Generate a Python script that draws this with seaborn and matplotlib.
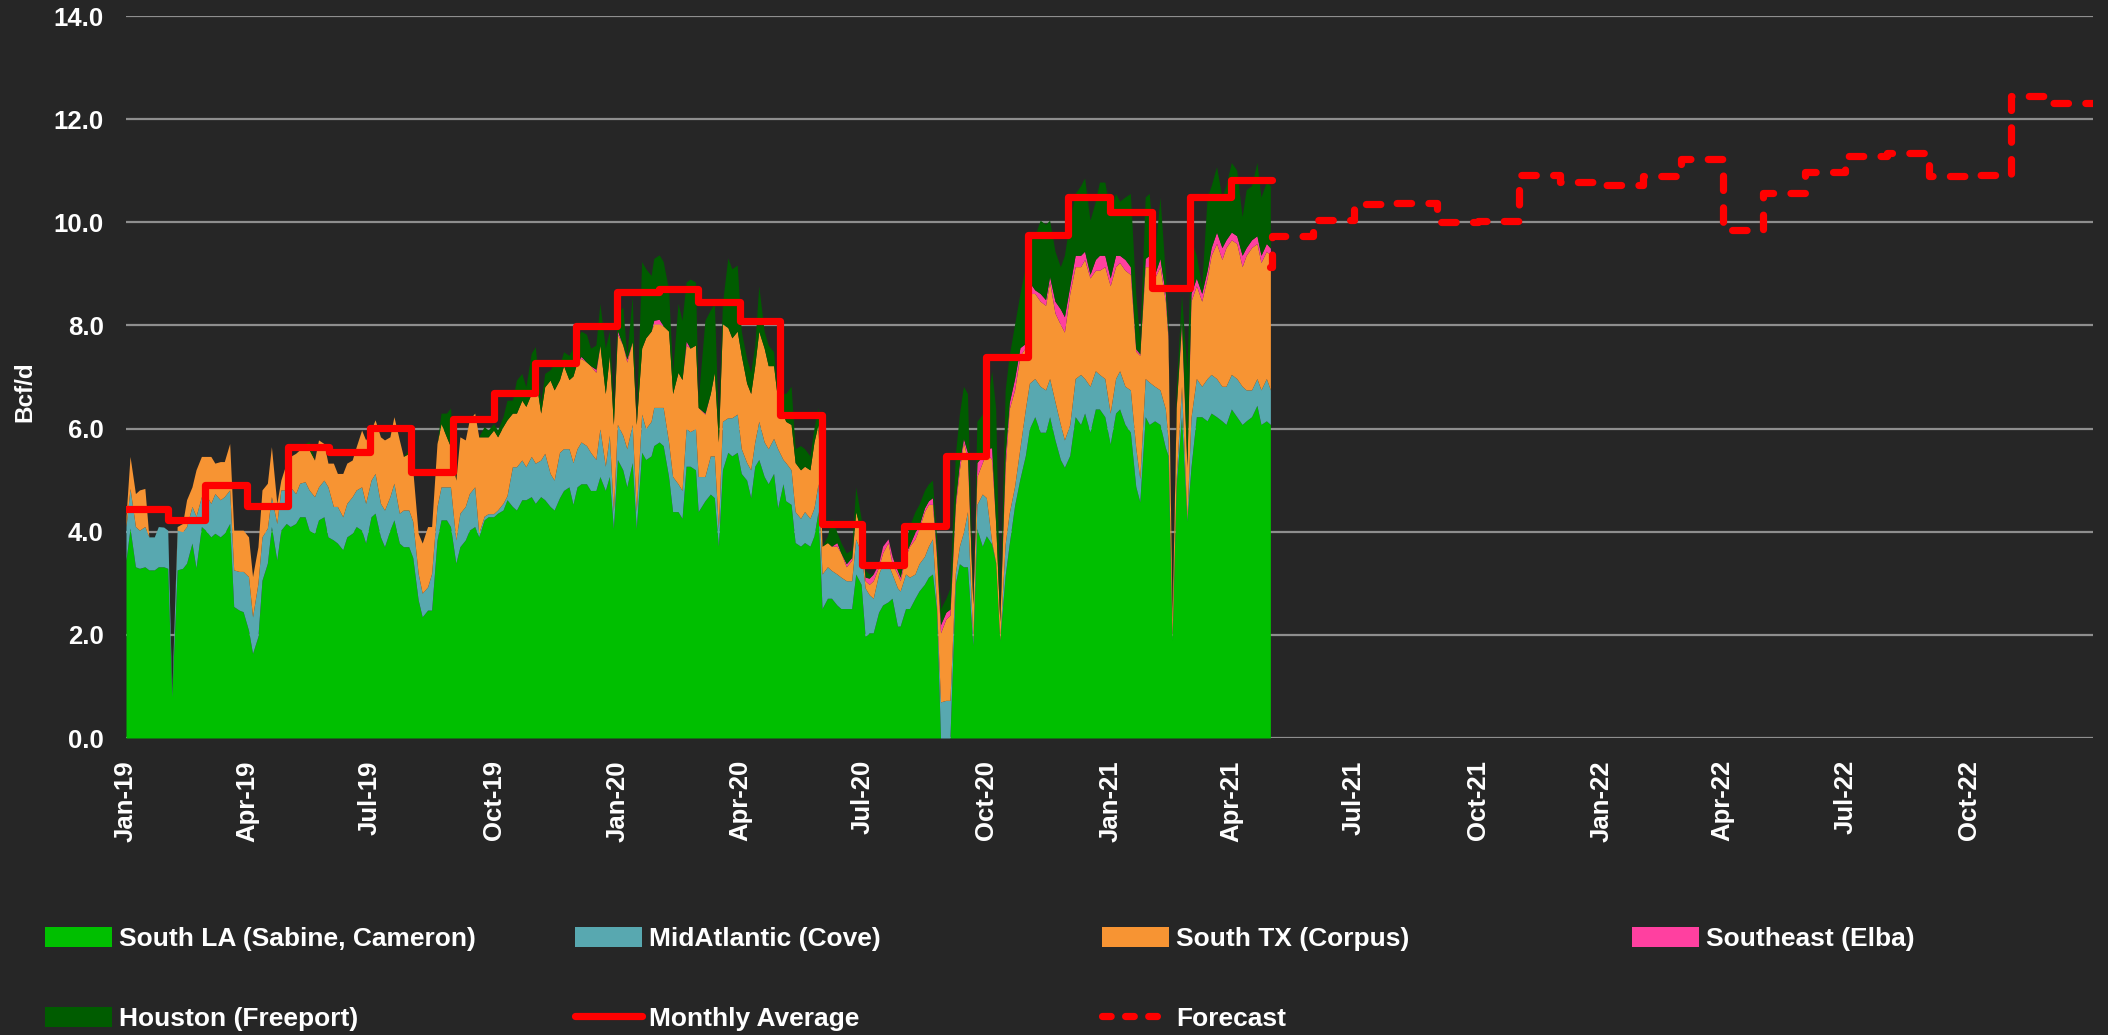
import numpy as np
import pandas as pd
import matplotlib
matplotlib.use("Agg")
import matplotlib.pyplot as plt
import seaborn as sns
from matplotlib.patches import Patch
from matplotlib.lines import Line2D

# ---------------- data ----------------
# day offsets from 2019-01-01 of the sampled daily values
day_offset = [
    0, 3, 7, 10, 14, 17, 21, 24, 28, 31,
    34, 38, 42, 45, 49, 52, 56, 59, 63, 66,
    70, 73, 77, 80, 84, 87, 91, 94, 98, 101,
    105, 108, 112, 115, 119, 122, 126, 129, 133, 136,
    140, 143, 147, 150, 154, 157, 161, 164, 168, 171,
    175, 178, 182, 185, 189, 192, 196, 199, 203, 206,
    210, 213, 217, 220, 224, 227, 231, 234, 238, 241,
    245, 248, 252, 255, 259, 262, 266, 269, 273, 276,
    280, 283, 287, 290, 294, 297, 301, 304, 308, 311,
    315, 318, 322, 325, 329, 332, 335, 338, 342, 345,
    349, 352, 356, 359, 362, 365, 369, 372, 376, 379,
    383, 386, 390, 392, 396, 399, 403, 406, 410, 413,
    416, 419, 423, 425, 430, 434, 437, 440, 443, 447,
    450, 454, 457, 461, 464, 467, 470, 474, 477, 481,
    484, 488, 490, 494, 497, 501, 504, 508, 511, 514,
    517, 521, 524, 528, 531, 535, 539, 542, 546, 549,
    552, 555, 559, 562, 566, 569, 573, 575, 579, 582,
    586, 589, 593, 596, 599, 602, 605, 609, 612, 616,
    619, 622, 625, 629, 632, 636, 639, 643, 646, 649,
    653, 656, 660, 664, 668, 671, 675, 679, 683, 686,
    690, 694, 697, 701, 705, 709, 712, 716, 720, 723,
    727, 731, 735, 738, 742, 746, 750, 753, 757, 760,
    764, 768, 772, 774, 777, 780, 784, 788, 791, 795,
    799, 803, 806, 810, 814, 817, 821, 825, 829, 832,
    836, 840, 843, 847, 850,
]

south_la = [
    3.45, 4.07, 3.32, 3.29, 3.32, 3.26, 3.26, 3.32, 3.32, 3.29,
    0.80, 3.26, 3.29, 3.39, 3.78, 3.30, 4.10, 4.03, 3.90, 3.97,
    3.90, 3.97, 4.16, 2.55, 2.48, 2.45, 2.09, 1.64, 1.97, 3.06,
    3.39, 4.10, 3.45, 4.03, 4.16, 4.10, 4.16, 4.29, 4.29, 4.03,
    3.97, 4.23, 4.29, 3.90, 3.84, 3.78, 3.65, 3.90, 3.97, 4.10,
    4.03, 3.78, 4.29, 4.36, 3.90, 3.71, 4.03, 4.23, 3.78, 3.71,
    3.71, 3.50, 2.68, 2.35, 2.48, 2.48, 3.84, 4.23, 4.23, 4.10,
    3.39, 3.71, 3.84, 4.03, 4.10, 3.90, 4.23, 4.29, 4.29, 4.36,
    4.42, 4.62, 4.49, 4.42, 4.62, 4.62, 4.68, 4.55, 4.68, 4.62,
    4.49, 4.42, 4.66, 4.80, 4.87, 4.53, 4.87, 4.93, 4.93, 4.80,
    4.80, 5.07, 4.80, 5.07, 4.06, 5.40, 5.20, 4.87, 5.34, 4.06,
    5.54, 5.40, 5.47, 5.67, 5.74, 5.67, 5.07, 4.39, 4.39, 4.26,
    5.27, 5.27, 5.20, 4.39, 4.60, 4.73, 4.66, 3.72, 5.20, 5.54,
    5.47, 5.54, 5.13, 5.00, 4.66, 5.27, 5.40, 5.07, 4.93, 5.13,
    4.46, 4.93, 4.60, 4.53, 3.79, 3.72, 3.79, 3.72, 3.92, 4.39,
    2.51, 2.71, 2.71, 2.58, 2.51, 2.51, 2.51, 3.18, 2.98, 1.97,
    2.04, 2.04, 2.44, 2.58, 2.64, 2.71, 2.17, 2.17, 2.51, 2.51,
    2.71, 2.85, 2.98, 3.12, 3.18, 2.50, 0.00, 0.00, 0.00, 3.00,
    3.38, 3.32, 3.32, 1.80, 4.06, 3.72, 3.92, 3.76, 3.39, 1.89,
    3.16, 3.76, 4.51, 5.03, 5.48, 6.00, 6.23, 5.93, 5.93, 6.23,
    5.78, 5.40, 5.25, 5.48, 6.23, 6.08, 6.30, 5.93, 6.38, 6.38,
    6.23, 5.70, 6.30, 6.38, 6.08, 5.93, 4.88, 4.58, 6.23, 6.08,
    6.15, 6.08, 5.63, 5.48, 1.90, 4.88, 6.23, 4.21, 5.25, 6.23,
    6.23, 6.15, 6.30, 6.23, 6.15, 6.08, 6.38, 6.23, 6.08, 6.15,
    6.23, 6.45, 6.08, 6.15, 6.08,
]

midatlantic = [
    0.65, 0.77, 0.78, 0.74, 0.78, 0.64, 0.64, 0.78, 0.77, 0.74,
    0.05, 0.77, 0.71, 0.71, 0.71, 1.00, 0.58, 0.71, 0.65, 0.77,
    0.72, 0.71, 0.65, 0.71, 0.75, 0.78, 1.04, 0.71, 1.03, 0.84,
    0.68, 0.58, 0.71, 0.78, 0.65, 0.77, 0.58, 0.65, 0.68, 0.78,
    0.71, 0.64, 0.71, 0.97, 0.65, 0.71, 0.64, 0.65, 0.71, 0.71,
    0.84, 0.77, 0.71, 0.77, 0.65, 0.71, 0.65, 0.71, 0.58, 0.71,
    0.71, 0.70, 0.51, 0.46, 0.45, 0.71, 0.65, 0.64, 0.64, 0.77,
    0.45, 0.65, 0.65, 0.71, 0.77, 0.07, 0.07, 0.06, 0.06, 0.06,
    0.13, 0.08, 0.77, 0.84, 0.77, 0.64, 0.78, 0.78, 0.71, 0.90,
    0.64, 0.58, 0.88, 0.81, 0.74, 0.81, 0.74, 0.81, 0.74, 0.74,
    0.60, 0.93, 0.47, 0.80, 0.33, 0.68, 0.67, 0.74, 0.74, 0.33,
    0.74, 0.60, 0.67, 0.74, 0.67, 0.74, 0.67, 0.68, 0.54, 0.54,
    0.73, 0.67, 0.80, 0.68, 0.47, 0.74, 0.81, 0.34, 0.94, 0.67,
    0.74, 0.74, 0.48, 0.34, 0.54, 0.47, 0.74, 0.67, 0.68, 0.68,
    1.15, 0.47, 0.74, 0.67, 0.60, 0.54, 0.60, 0.54, 0.54, 0.54,
    0.67, 0.61, 0.54, 0.60, 0.61, 0.54, 0.54, 0.68, 0.61, 0.94,
    0.74, 0.67, 0.74, 0.80, 0.74, 0.47, 0.74, 0.68, 0.67, 0.61,
    0.47, 0.53, 0.54, 0.60, 0.68, 0.10, 0.70, 0.73, 0.73, 0.20,
    0.34, 0.67, 1.07, 0.10, 0.47, 1.01, 0.74, 0.04, 0.01, 0.01,
    0.60, 0.60, 0.37, 0.60, 0.90, 0.88, 0.74, 0.89, 0.82, 0.74,
    0.74, 0.68, 0.53, 0.60, 0.74, 0.97, 0.67, 0.89, 0.74, 0.67,
    0.74, 0.60, 0.67, 0.74, 0.74, 0.82, 0.75, 0.45, 0.74, 0.82,
    0.67, 0.67, 0.75, 0.30, 0.05, 0.15, 0.59, 0.04, 0.96, 0.74,
    0.59, 0.82, 0.75, 0.74, 0.67, 0.74, 0.67, 0.74, 0.74, 0.60,
    0.52, 0.52, 0.67, 0.82, 0.67,
]

south_tx = [
    0.20, 0.62, 0.64, 0.78, 0.74, 0.00, 0.00, 0.00, 0.00, 0.00,
    0.00, 0.07, 0.16, 0.52, 0.38, 0.90, 0.78, 0.72, 0.91, 0.59,
    0.74, 0.68, 0.90, 0.77, 0.80, 0.80, 0.77, 0.78, 0.71, 0.91,
    0.87, 0.97, 0.39, 0.19, 0.52, 0.59, 0.78, 0.65, 0.74, 0.78,
    0.71, 0.91, 0.71, 0.46, 0.84, 0.64, 0.84, 0.78, 0.71, 0.84,
    1.10, 1.23, 0.97, 1.04, 1.29, 1.36, 1.16, 1.29, 1.42, 1.04,
    1.10, 1.00, 0.78, 0.97, 1.17, 0.91, 1.22, 1.23, 0.97, 0.78,
    1.16, 1.48, 1.29, 1.43, 1.43, 1.87, 1.54, 1.49, 1.62, 1.42,
    1.49, 1.47, 1.04, 1.04, 1.16, 1.17, 1.22, 1.68, 0.91, 1.29,
    1.81, 1.75, 1.41, 1.61, 1.34, 1.68, 1.68, 1.62, 1.62, 1.68,
    1.69, 1.62, 1.41, 1.55, 1.69, 1.75, 1.75, 1.68, 1.61, 1.69,
    1.28, 1.76, 1.75, 1.62, 1.62, 1.58, 2.15, 1.61, 2.16, 2.15,
    1.62, 1.62, 1.62, 1.34, 1.21, 1.21, 1.62, 1.68, 1.89, 1.75,
    1.55, 1.61, 1.81, 1.54, 1.48, 1.48, 1.75, 1.82, 1.61, 1.41,
    0.94, 0.88, 0.80, 0.88, 0.95, 0.94, 0.88, 0.94, 1.28, 1.15,
    0.54, 0.47, 0.47, 0.54, 0.47, 0.27, 0.40, 0.53, 0.40, 0.14,
    0.20, 0.34, 0.14, 0.21, 0.41, 0.20, 0.27, 0.20, 0.34, 0.60,
    0.68, 0.68, 0.87, 0.81, 0.67, 0.90, 1.34, 1.58, 1.65, 1.30,
    1.48, 1.75, 1.01, 0.70, 0.54, 0.61, 0.88, 1.60, 0.73, 0.36,
    1.49, 2.02, 1.87, 1.79, 1.19, 1.74, 1.65, 1.65, 1.64, 1.87,
    1.72, 1.94, 2.09, 2.54, 2.17, 2.09, 2.31, 2.10, 1.95, 2.02,
    2.17, 2.47, 2.17, 2.10, 2.25, 2.24, 1.87, 2.39, 2.17, 2.24,
    2.10, 2.39, 2.09, 1.94, 0.35, 1.35, 1.18, 1.00, 2.26, 1.80,
    1.65, 1.95, 2.31, 2.62, 2.46, 2.69, 2.61, 2.62, 2.32, 2.61,
    2.76, 2.62, 2.47, 2.47, 2.61,
]

southeast = [
    0, 0, 0, 0, 0, 0, 0, 0, 0, 0,
    0, 0, 0, 0, 0, 0, 0, 0, 0, 0,
    0, 0, 0, 0, 0, 0, 0, 0, 0, 0,
    0, 0, 0, 0, 0, 0, 0, 0, 0, 0,
    0, 0, 0, 0, 0, 0, 0, 0, 0, 0,
    0, 0, 0, 0, 0, 0, 0, 0, 0, 0,
    0, 0, 0, 0, 0, 0, 0, 0, 0, 0,
    0, 0, 0, 0, 0, 0, 0, 0, 0, 0,
    0, 0, 0, 0, 0, 0, 0, 0, 0, 0,
    0, 0, 0, 0, 0, 0, 0, 0.04, 0, 0,
    0.06, 0, 0, 0, 0, 0.07, 0, 0.06, 0, 0,
    0, 0, 0, 0.07, 0.09, 0, 0, 0, 0, 0,
    0.08, 0, 0, 0, 0.02, 0, 0, 0, 0, 0,
    0, 0, 0, 0, 0, 0, 0, 0, 0, 0,
    0, 0, 0, 0, 0, 0, 0, 0, 0, 0,
    0, 0, 0, 0.07, 0, 0.06, 0.05, 0, 0, 0.07,
    0.12, 0.13, 0.06, 0.13, 0.07, 0.14, 0.07, 0.07, 0.07, 0.03,
    0.13, 0.06, 0.07, 0.07, 0.13, 0.10, 0.16, 0.13, 0.12, 0.10,
    0.14, 0.07, 0.14, 0.00, 0.27, 0.13, 0.07, 0.23, 0.00, 0.00,
    0.23, 0.12, 0.22, 0.15, 0.08, 0.22, 0.07, 0.15, 0.11, 0.11,
    0.23, 0.30, 0.30, 0.15, 0.22, 0.22, 0.16, 0.07, 0.21, 0.29,
    0.22, 0.15, 0.22, 0.14, 0.21, 0.15, 0.05, 0.03, 0.16, 0.22,
    0.07, 0.16, 0.15, 0.08, 0.00, 0.02, 0.10, 0.05, 0.15, 0.15,
    0.15, 0.15, 0.15, 0.22, 0.23, 0.15, 0.15, 0.15, 0.22, 0.15,
    0.15, 0.15, 0.14, 0.15, 0.14,
]

houston = [
    0, 0, 0, 0, 0, 0, 0, 0, 0, 0,
    0, 0, 0, 0, 0, 0, 0, 0, 0, 0,
    0, 0, 0, 0, 0, 0, 0, 0, 0, 0,
    0, 0, 0, 0, 0, 0, 0, 0, 0, 0.16,
    0, 0, 0, 0, 0, 0, 0, 0, 0, 0,
    0, 0, 0, 0, 0, 0, 0, 0, 0, 0,
    0.08, 0, 0, 0, 0, 0, 0, 0.20, 0.46, 0.75,
    0, 0, 0, 0, 0, 0, 0.20, 0.13, 0.13, 0.13,
    0.19, 0.38, 0.25, 0.64, 0.52, 0.38, 0.78, 0.58, 0.19, 0.26,
    0.20, 0.52, 0.27, 0.27, 0.47, 0.54, 0.47, 0.49, 0.54, 0.34,
    0.47, 0.81, 0.88, 0.47, 0.33, 0.33, 0.74, 0.07, 0.88, 0.06,
    1.68, 1.34, 1.08, 1.20, 1.25, 1.25, 0.81, 0.41, 1.34, 1.15,
    1.14, 1.34, 1.22, 0.14, 1.80, 1.62, 1.34, 0.34, 0.40, 1.35,
    1.34, 1.28, 0.47, 0.48, 0.41, 0.40, 0.88, 0.33, 0.40, 0.27,
    0.13, 0.40, 0.54, 0.74, 0.27, 0.47, 0.34, 0.27, 0.27, 0.33,
    0.00, 0.13, 0.54, 0.20, 0.20, 0.21, 0.15, 0.48, 0.27, 0.13,
    0.08, 0.00, 0.00, 0.00, 0.00, 0.00, 0.07, 0.13, 0.20, 0.37,
    0.40, 0.41, 0.34, 0.33, 0.34, 0.30, 0.31, 0.27, 0.41, 0.90,
    0.94, 1.01, 1.14, 0.10, 0.80, 0.81, 0.80, 1.49, 2.25, 0.04,
    1.27, 0.92, 1.05, 1.05, 1.49, 0.97, 1.05, 1.42, 1.46, 1.09,
    0.97, 0.82, 1.19, 1.27, 1.20, 1.35, 1.42, 1.05, 1.13, 1.42,
    1.42, 1.27, 1.20, 1.05, 1.21, 1.42, 1.05, 0.27, 1.19, 1.20,
    0.37, 1.19, 0.37, 0.22, 0.00, 0.35, 0.50, 1.82, 1.04, 0.44,
    0.15, 1.42, 1.20, 1.27, 0.98, 1.05, 1.35, 1.27, 0.75, 1.12,
    1.05, 1.42, 1.13, 1.19, 1.21,
]

# monthly averages Jan-19 .. Apr-21
monthly_avg = [4.45, 4.23, 4.90, 4.49, 5.64, 5.55, 6.01, 5.15, 6.18, 6.69,
               7.27, 7.98, 8.64, 8.71, 8.45, 8.09, 6.26, 4.15, 3.35, 4.11,
               5.47, 7.39, 9.75, 10.49, 10.19, 8.72, 10.49, 10.82]

# forecast: last daily point then May-21 .. Dec-22
forecast_dates = ["2021-04-30"] + [d.strftime("%Y-%m-%d") for d in
                                   pd.date_range("2021-05-01", periods=20, freq="MS")]
forecast_vals = [9.14, 9.73, 10.05, 10.35, 10.38, 10.00, 10.02, 10.91, 10.78, 10.73,
                 10.90, 11.23, 9.86, 10.57, 10.98, 11.28, 11.34, 10.90, 10.92, 12.45,
                 12.32]

series_labels = ["South LA (Sabine, Cameron)", "MidAtlantic (Cove)", "South TX (Corpus)",
                 "Southeast (Elba)", "Houston (Freeport)"]
series_colors = ["#00BF00", "#58A8B0", "#F79433", "#FF40A0", "#005C00"]

# ---------------- style ----------------
BG = "#262626"
sns.set_theme(style="dark", rc={
    "axes.facecolor": BG, "figure.facecolor": BG, "savefig.facecolor": BG,
    "text.color": "white", "axes.labelcolor": "white",
    "xtick.color": "white", "ytick.color": "white",
})
plt.rcParams["font.family"] = ["Liberation Sans", "DejaVu Sans"]
plt.rcParams["font.weight"] = "bold"

FS = 18.5
LFS = 19
W, H = 2108, 1035
fig = plt.figure(figsize=(W / 100, H / 100), dpi=100)
ax = fig.add_axes([126 / W, 1 - 738 / H, (2093 - 126) / W, (738 - 16) / H])
ax.set_facecolor(BG)

start = pd.Timestamp("2019-01-01")
dates = start + pd.to_timedelta(day_offset, unit="D")

ax.stackplot(dates, south_la, midatlantic, south_tx, southeast, houston,
             colors=series_colors, linewidth=0, zorder=2)

# monthly average (step line)
m_dates = list(pd.date_range("2019-01-01", periods=len(monthly_avg), freq="MS"))
m_dates.append(pd.Timestamp("2021-05-01"))
m_vals = monthly_avg + [monthly_avg[-1]]
sns.lineplot(x=m_dates, y=m_vals, drawstyle="steps-post", color="#FF0000",
             linewidth=5.2, ax=ax, zorder=4, legend=False)

# forecast (dashed step line)
f_dates = [pd.Timestamp(d) for d in forecast_dates] + [pd.Timestamp("2023-01-01")]
f_vals = forecast_vals + [forecast_vals[-1]]
sns.lineplot(x=f_dates, y=f_vals, drawstyle="steps-post", color="#FF0000",
             linewidth=5.2, linestyle=(0, (2.0, 2.4)), dash_capstyle="round",
             ax=ax, zorder=4, legend=False)

# axes
ax.set_ylim(0, 14)
ax.set_yticks(np.arange(0, 15, 2))
ax.set_yticklabels([f"{v:.1f}" for v in np.arange(0, 15, 2)], fontsize=FS, fontweight="bold")
ax.set_xlim(start, pd.Timestamp("2023-01-01"))
qt = pd.date_range("2019-01-01", "2022-10-01", freq="QS")
ax.set_xticks(qt)
ax.set_xticklabels([d.strftime("%b-%y") for d in qt], rotation=90, fontsize=FS,
                   fontweight="bold")
ax.tick_params(axis="x", length=0, pad=16)
ax.tick_params(axis="y", length=0, pad=16)
ax.grid(axis="y", color="#8E8E8E", linewidth=1.6, zorder=0)
ax.grid(axis="x", visible=False)
ax.set_axisbelow(True)
for s in ax.spines.values():
    s.set_visible(False)
ax.set_xlabel("")
ax.set_ylabel("Bcf/d", fontsize=17.5, fontweight="bold", color="white")
ax.yaxis.set_label_coords(-0.0458, 0.48)

# legend: fixed grid of entries
handles = [Patch(facecolor=c, edgecolor="none") for c in series_colors]
handles.append(Line2D([], [], color="#FF0000", linewidth=5.2))
handles.append(Line2D([], [], color="#FF0000", linewidth=5.2, linestyle=(0, (1.2, 2.0)),
                      dash_capstyle="round"))
labels = series_labels + ["Monthly Average", "Forecast"]
col_x = [45 / W, 575 / W, 1102 / W, 1632 / W]
row_y = [1 - 939 / H, 1 - 1019 / H]
for i, (h, l) in enumerate(zip(handles, labels)):
    r, c = divmod(i, 4)
    fig.legend(handles=[h], labels=[l], loc="center left",
               bbox_to_anchor=(col_x[c], row_y[r]), frameon=False,
               borderpad=0, borderaxespad=0, handlelength=2.55, handleheight=0.78,
               handletextpad=0.25, prop={"size": LFS, "weight": "bold"},
               labelcolor="white")

fig.savefig("out.png", dpi=100, facecolor=BG)
